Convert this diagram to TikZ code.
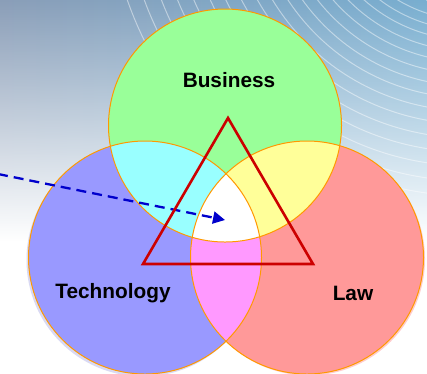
\documentclass[tikz,border=0pt]{standalone}
\usepackage{fontspec}
\setmainfont{Liberation Sans}
\usetikzlibrary{arrows.meta,fadings,calc}
\definecolor{bgA}{HTML}{8A9EB8}
\definecolor{bgB}{HTML}{78AED0}
\definecolor{cgreen}{HTML}{99FF99}
\definecolor{cblue}{HTML}{9999FF}
\definecolor{cred}{HTML}{FF9999}
\definecolor{ccyan}{HTML}{99FFFF}
\definecolor{cyellow}{HTML}{FFFF99}
\definecolor{cmagenta}{HTML}{FF99FF}
\definecolor{corange}{HTML}{FF9900}
\definecolor{tri}{HTML}{CC0000}
\definecolor{arr}{HTML}{0000CC}
\tikzset{
  ring/.style={draw=corange, line width=1pt},
  lbl/.style={font=\bfseries\fontsize{20.8}{24}\selectfont, text=black},
  tribox/.style={draw=tri, line width=2.6pt, line join=miter},
  pointer/.style={draw=arr, line width=2.3pt, dash pattern=on 10pt off 6pt, -{Triangle[length=12pt,width=12pt]}},
  swirl/.style={draw=white, line width=1pt}
}
\begin{document}
\begin{tikzpicture}[x=1pt,y=-1pt]
\useasboundingbox (0,0) rectangle (427,373);
% background
\fill[white] (0,0) rectangle (427,373);
\shade[left color=bgA, right color=bgB, path fading=south] (0,0) rectangle (427,240);
\begin{scope}
\clip (0,0) rectangle (427,200);
\foreach \r in {140,150,160,171,182,194,206,218,231,244,258,272,286,301,316,331,347,363} {
  \draw[swirl, opacity=0.45] (470,-120) ++(180:\r) arc[start angle=180, end angle=90, radius=\r];
}
\end{scope}
% circle geometry
\coordinate (cg) at (225,125.5);
\coordinate (cb) at (145,257.5);
\coordinate (cr) at (307,257.5);
\def\R{116.5}
% soft shadows
\fill[cblue!85!black, opacity=0.3] ($(cb)+(-2,2.5)$) circle[radius=\R];
\fill[cred, opacity=0.5] ($(cr)+(1.5,1.5)$) circle[radius=\R];
% fills
\fill[cgreen] (cg) circle[radius=\R];
\fill[cblue] (cb) circle[radius=\R];
\fill[cred] (cr) circle[radius=\R];
\begin{scope}
\clip (cg) circle[radius=\R];
\fill[ccyan] (cb) circle[radius=\R];
\fill[cyellow] (cr) circle[radius=\R];
\end{scope}
\begin{scope}
\clip (cb) circle[radius=\R];
\fill[cmagenta] (cr) circle[radius=\R];
\clip (cr) circle[radius=\R];
\fill[white] (cg) circle[radius=\R];
\end{scope}
\draw[ring] (cg) circle[radius=\R];
\draw[ring] (cb) circle[radius=\R];
\draw[ring] (cr) circle[radius=\R];
% labels
\node[lbl] (business) at (229,80) {Business};
\node[lbl] (technology) at (113,293) {Technology};
\node[lbl] (law) at (353,293) {Law};
% arrow
\coordinate (from) at (-2,174);
\coordinate (to) at (225,220);
\draw[pointer] (from) -- (to);
% triangle
\draw[tribox] (228,118) -- (313,264) -- (143,264) -- cycle;
\end{tikzpicture}
\end{document}
